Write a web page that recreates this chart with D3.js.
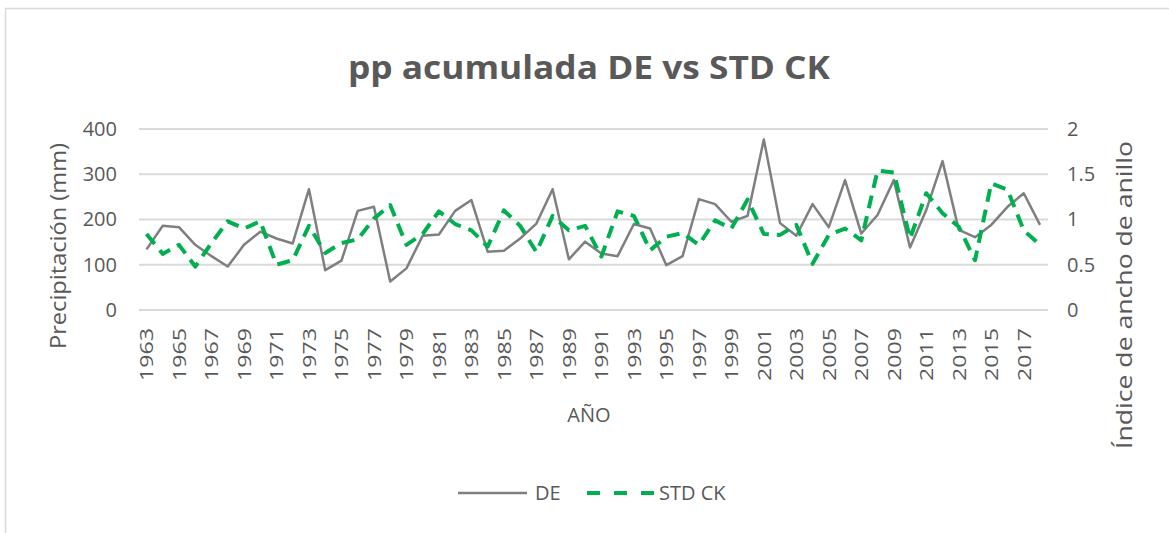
<!DOCTYPE html>
<html>
<head>
<meta charset="utf-8">
<script src="https://cdn.jsdelivr.net/npm/d3@7"></script>
<style>
  html, body { margin: 0; padding: 0; background: #fff; }
  svg { display: block; font-family: "Open Sans", sans-serif; }
</style>
</head>
<body>
<svg id="chart" width="1169" height="533"></svg>
<script>
const years = [1963, 1964, 1965, 1966, 1967, 1968, 1969, 1970, 1971, 1972, 1973, 1974, 1975, 1976,
  1977, 1978, 1979, 1980, 1981, 1982, 1983, 1984, 1985, 1986, 1987, 1988, 1989, 1990, 1991, 1992,
  1993, 1994, 1995, 1996, 1997, 1998, 1999, 2000, 2001, 2002, 2003, 2004, 2005, 2006, 2007, 2008,
  2009, 2010, 2011, 2012, 2013, 2014, 2015, 2016, 2017, 2018];

// DE - precipitación acumulada (mm), eje izquierdo
const deValues = [134, 186, 183, 144, 119, 96, 144, 173, 158, 147, 267, 88, 109, 219,
  228, 63, 92, 164, 167, 219, 243, 129, 131, 158, 191, 267, 112, 151, 125, 119,
  190, 180, 99, 119, 245, 234, 195, 208, 377, 192, 164, 234, 183, 287, 169, 210,
  287, 138, 221, 329, 177, 161, 188, 228, 258, 188];

// STD CK - índice de ancho de anillo, eje derecho
const stdValues = [0.84, 0.62, 0.72, 0.48, 0.74, 0.98, 0.90, 0.98, 0.50, 0.55, 0.93, 0.63, 0.74, 0.78,
  1.01, 1.16, 0.72, 0.84, 1.09, 0.95, 0.88, 0.70, 1.10, 0.93, 0.64, 1.04, 0.88, 0.93, 0.59, 1.09,
  1.04, 0.66, 0.81, 0.85, 0.72, 0.99, 0.90, 1.22, 0.84, 0.83, 0.94, 0.51, 0.83, 0.90, 0.77, 1.54,
  1.52, 0.79, 1.29, 1.07, 0.92, 0.55, 1.40, 1.33, 0.88, 0.72];

const leftTicks = [0, 100, 200, 300, 400];
const rightTicks = [0, 0.5, 1, 1.5, 2];
const xTickYears = years.filter((d, i) => i % 2 === 0);

const svg = d3.select("#chart");
const textColor = "#595959";
const gridColor = "#d9d9d9";

svg.append("rect")
  .attr("x", 5.5).attr("y", 8.5)
  .attr("width", 1200).attr("height", 600)
  .attr("fill", "#fff")
  .attr("stroke", gridColor)
  .attr("stroke-width", 1.5);

const plotLeft = 139, plotRight = 1048;
const x = d3.scalePoint().domain(years).range([146.5, 1040]);
const yL = d3.scaleLinear().domain([0, 400]).range([310, 129]);
const yR = d3.scaleLinear().domain([0, 2]).range([310, 129]);

// gridlines
svg.append("g")
  .selectAll("line")
  .data(leftTicks)
  .join("line")
  .attr("x1", plotLeft).attr("x2", plotRight)
  .attr("y1", d => yL(d)).attr("y2", d => yL(d))
  .attr("stroke", gridColor)
  .attr("stroke-width", 2);

// left axis
const leftAxis = svg.append("g")
  .attr("transform", `translate(${plotLeft - 22},0)`)
  .call(d3.axisLeft(yL).tickValues(leftTicks).tickSize(0).tickPadding(0));
leftAxis.select(".domain").remove();
leftAxis.selectAll("text")
  .attr("fill", textColor)
  .attr("font-size", 20)
  .attr("font-family", "Open Sans");

// right axis
const rightAxis = svg.append("g")
  .attr("transform", `translate(${plotRight + 19},0)`)
  .call(d3.axisRight(yR).tickValues(rightTicks).tickSize(0).tickPadding(0)
    .tickFormat(d3.format("~g")));
rightAxis.select(".domain").remove();
rightAxis.selectAll("text")
  .attr("fill", textColor)
  .attr("font-size", 20)
  .attr("font-family", "Open Sans");

// x axis labels (rotated)
const xAxis = svg.append("g")
  .attr("transform", "translate(0,322)")
  .call(d3.axisBottom(x).tickValues(xTickYears).tickSize(0).tickPadding(0));
xAxis.select(".domain").remove();
xAxis.selectAll("text")
  .attr("fill", textColor)
  .attr("font-size", 18)
  .attr("font-family", "Open Sans")
  .attr("text-anchor", "end")
  .attr("transform", "rotate(-90)")
  .attr("x", -6)
  .attr("y", 0)
  .attr("dy", "0.36em")
  .attr("textLength", 53)
  .attr("lengthAdjust", "spacingAndGlyphs");

// lines
const deLine = d3.line().x((d, i) => x(years[i])).y(d => yL(d));
const stdLine = d3.line().x((d, i) => x(years[i])).y(d => yR(d));

svg.append("path")
  .datum(deValues)
  .attr("fill", "none")
  .attr("stroke", "#7f7f7f")
  .attr("stroke-width", 2.5)
  .attr("stroke-linejoin", "round")
  .attr("d", deLine);

svg.append("path")
  .datum(stdValues)
  .attr("fill", "none")
  .attr("stroke", "#00b050")
  .attr("stroke-width", 4)
  .attr("stroke-dasharray", "13 8")
  .attr("stroke-linejoin", "round")
  .attr("d", stdLine);

// title
svg.append("text")
  .attr("x", 589).attr("y", 79)
  .attr("text-anchor", "middle")
  .attr("font-size", 33)
  .attr("font-weight", "bold")
  .attr("fill", textColor)
  .attr("textLength", 482)
  .attr("lengthAdjust", "spacingAndGlyphs")
  .text("pp acumulada DE vs STD CK");

// axis titles
svg.append("text")
  .attr("transform", "translate(66,246) rotate(-90)")
  .attr("text-anchor", "middle")
  .attr("font-size", 22)
  .attr("fill", textColor)
  .attr("textLength", 206)
  .attr("lengthAdjust", "spacingAndGlyphs")
  .text("Precipitación (mm)");

svg.append("text")
  .attr("transform", "translate(1132,295) rotate(-90)")
  .attr("text-anchor", "middle")
  .attr("font-size", 22)
  .attr("fill", textColor)
  .attr("textLength", 308)
  .attr("lengthAdjust", "spacingAndGlyphs")
  .text("Índice de ancho de anillo");

svg.append("text")
  .attr("x", 589).attr("y", 422)
  .attr("text-anchor", "middle")
  .attr("font-size", 20)
  .attr("fill", textColor)
  .text("AÑO");

// legend
const legend = svg.append("g").attr("transform", "translate(0,493)");
legend.append("line")
  .attr("x1", 458).attr("x2", 527).attr("y1", 0).attr("y2", 0)
  .attr("stroke", "#7f7f7f").attr("stroke-width", 2.5);
legend.append("text")
  .attr("x", 535).attr("y", 0).attr("dy", "0.35em")
  .attr("font-size", 20).attr("fill", textColor)
  .text("DE");
legend.append("line")
  .attr("x1", 587).attr("x2", 654).attr("y1", 0).attr("y2", 0)
  .attr("stroke", "#00b050").attr("stroke-width", 4)
  .attr("stroke-dasharray", "13 14");
legend.append("text")
  .attr("x", 659).attr("y", 0).attr("dy", "0.35em")
  .attr("font-size", 20).attr("fill", textColor)
  .text("STD CK");
</script>
</body>
</html>
